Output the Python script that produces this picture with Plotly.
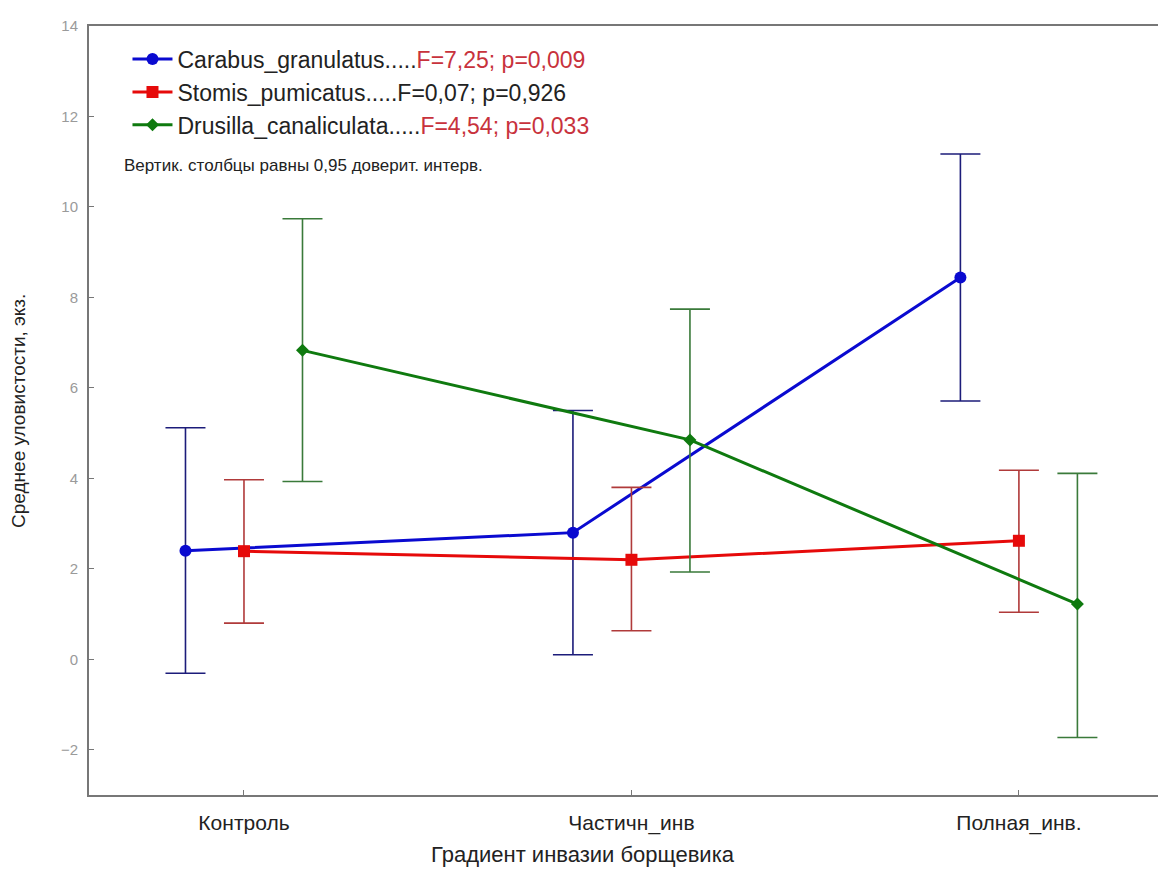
import plotly.graph_objects as go

categories = ["Контроль", "Частичн_инв", "Полная_инв."]
cat_pos = [0, 1, 2]

species = ["Carabus_granulatus", "Stomis_pumicatus", "Drusilla_canaliculata"]
stats = ["F=7,25; p=0,009", "F=0,07; p=0,926", "F=4,54; p=0,033"]
stats_red = [True, False, True]
dots = [".....", ".....", "....."]

carabus_mean = [2.4, 2.8, 8.44]
carabus_lo = [-0.31, 0.1, 5.71]
carabus_hi = [5.12, 5.5, 11.17]

stomis_mean = [2.39, 2.2, 2.62]
stomis_lo = [0.8, 0.63, 1.04]
stomis_hi = [3.97, 3.8, 4.18]

drusilla_mean = [6.83, 4.85, 1.22]
drusilla_lo = [3.93, 1.93, -1.73]
drusilla_hi = [9.74, 7.74, 4.11]

offsets = [-0.151, 0.0, 0.151]

means = [carabus_mean, stomis_mean, drusilla_mean]
los = [carabus_lo, stomis_lo, drusilla_lo]
his = [carabus_hi, stomis_hi, drusilla_hi]
line_colors = ["#0a0ad0", "#e60a0a", "#0f7a0f"]
err_colors = ["#1c1c7a", "#b03a3a", "#3a7a3a"]
symbols = ["circle", "square", "diamond"]
msizes = [12, 12, 10]

NARROW = "Liberation Sans Narrow, Liberation Sans, Arial"
SANS = "Liberation Sans, Arial"

fig = go.Figure()
for i in range(3):
    xs = [p + offsets[i] for p in cat_pos]
    m = means[i]
    plus = [h - v for h, v in zip(his[i], m)]
    minus = [v - l for v, l in zip(m, los[i])]
    stat_txt = stats[i]
    if stats_red[i]:
        stat_txt = f"<span style='color:#c8323c'>{stat_txt}</span>"
    name = f"{species[i]}{dots[i]}{stat_txt}"
    fig.add_trace(go.Scatter(
        x=xs, y=m, mode="lines+markers", name=name,
        line=dict(color=line_colors[i], width=3),
        marker=dict(symbol=symbols[i], size=msizes[i], color=line_colors[i]),
        error_y=dict(type="data", array=plus, arrayminus=minus, symmetric=False,
                     color=err_colors[i], thickness=1.6, width=20),
    ))

# page body has an 8px margin; the figure is sized so the plot area lands at
# x 89..1166, y 26..795 of the window
fig.add_annotation(
    xref="paper", yref="paper", x=0.031, y=0.818, xanchor="left", yanchor="middle",
    text="Вертик. столбцы равны 0,95 доверит. интерв.", showarrow=False,
    font=dict(family=SANS, size=17, color="#222222"),
)
fig.add_annotation(
    xref="paper", yref="paper", x=0.462, y=-0.078, xanchor="center", yanchor="middle",
    text="Градиент инвазии борщевика", showarrow=False,
    font=dict(family=NARROW, size=22, color="#222222"),
)
fig.add_annotation(
    xref="paper", yref="paper", x=-0.066, y=0.5, xanchor="center", yanchor="middle",
    text="Среднее уловистости, экз.", showarrow=False, textangle=-90,
    font=dict(family=NARROW, size=19, color="#222222"),
)

fig.update_layout(
    width=1150, height=865,
    margin=dict(l=81, r=0, t=18, b=78),
    plot_bgcolor="white", paper_bgcolor="white",
    showlegend=True,
    legend=dict(x=0.036, y=0.985, xanchor="left", yanchor="top",
                bgcolor="rgba(0,0,0,0)", borderwidth=0,
                font=dict(family=SANS, size=23, color="#222222"),
                itemwidth=40, tracegroupgap=0),
    xaxis=dict(
        range=[-0.4, 2.359], tickmode="array", tickvals=cat_pos, ticktext=categories,
        showgrid=False, zeroline=False, showline=True, linecolor="#777777", linewidth=2,
        mirror=True, ticks="inside", ticklen=5, tickcolor="#777777", ticklabelstandoff=8,
        tickfont=dict(family=NARROW, size=21, color="#222222"),
    ),
    yaxis=dict(
        range=[-3, 14], tickmode="array", tickvals=[-2, 0, 2, 4, 6, 8, 10, 12, 14],
        showgrid=False, zeroline=False, showline=True, linecolor="#777777", linewidth=2,
        ticks="inside", ticklen=5, tickcolor="#777777", ticklabelstandoff=6,
        tickfont=dict(family=SANS, size=15, color="#9a9a9a"),
    ),
)

fig.write_html("out.html")
